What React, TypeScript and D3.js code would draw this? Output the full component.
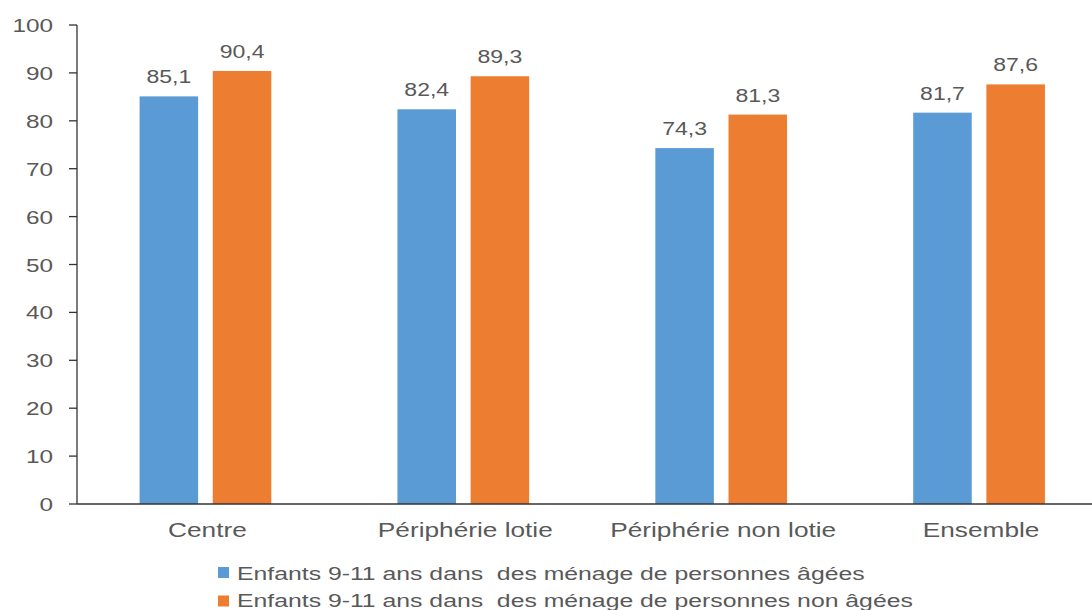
import React from "react";
import * as d3 from "d3";

const categories = ["Centre", "Périphérie lotie", "Périphérie non lotie", "Ensemble"];
const seriesNames = [
  "Enfants 9-11 ans dans  des ménage de personnes âgées",
  "Enfants 9-11 ans dans  des ménage de personnes non âgées",
];
const agees = [85.1, 82.4, 74.3, 81.7];
const nonAgees = [90.4, 89.3, 81.3, 87.6];
const yTicks = [0, 10, 20, 30, 40, 50, 60, 70, 80, 90, 100];
const colors = ["#5B9BD5", "#ED7D31"];

const W = 1092;
const H = 610;
const TEXT = "#595959";
const FONT = "'Liberation Sans', Arial, sans-serif";
const SX = 1.28;

export default function App() {
  const y = d3.scaleLinear().domain([0, 100]).range([504, 25]);
  const x0 = d3.scaleBand<string>().domain(categories).range([76.5, 1108]).paddingInner(0).paddingOuter(0);
  const x1 = d3
    .scaleBand<string>()
    .domain(["0", "1"])
    .range([0, x0.bandwidth()])
    .paddingInner(0.2)
    .paddingOuter(0.862);
  const values = [agees, nonAgees];
  const fmt = (v: number) => v.toFixed(1).replace(".", ",");

  return (
    <svg
      width={W}
      height={H}
      style={{ position: "absolute", left: 0, top: 0, background: "#fff" }}
      fontFamily={FONT}
    >
      <rect x={0} y={0} width={W} height={H} fill="#fff" />
      {/* bars */}
      {categories.map((c, ci) =>
        values.map((vals, si) => {
          const bx = (x0(c) as number) + (x1(String(si)) as number);
          const bw = x1.bandwidth();
          const v = vals[ci];
          return (
            <g key={c + si}>
              <rect x={bx} y={y(v)} width={bw} height={y(0) - y(v)} fill={colors[si]} />
              <text
                transform={`translate(${bx + bw / 2},${y(v) - 13}) scale(${SX},1)`}
                textAnchor="middle"
                fontSize={18}
                fill={TEXT}
              >
                {fmt(v)}
              </text>
            </g>
          );
        })
      )}
      {/* y axis */}
      <line x1={77} x2={77} y1={y(100)} y2={y(0)} stroke="#333" strokeWidth={1.3} />
      {yTicks.map((t) => (
        <g key={t}>
          <line x1={69} x2={77} y1={y(t)} y2={y(t)} stroke="#333" strokeWidth={1.3} />
          <text
            transform={`translate(53,${y(t) + 7}) scale(${SX},1)`}
            textAnchor="end"
            fontSize={19}
            fill={TEXT}
          >
            {t}
          </text>
        </g>
      ))}
      {/* x axis */}
      <line x1={77} x2={W} y1={y(0)} y2={y(0)} stroke="#333" strokeWidth={1.5} />
      {categories.map((c) => (
        <text
          key={c}
          transform={`translate(${(x0(c) as number) + x0.bandwidth() / 2 + 2},537) scale(${SX},1)`}
          textAnchor="middle"
          fontSize={20.5}
          fill={TEXT}
        >
          {c}
        </text>
      ))}
      {/* legend */}
      {seriesNames.map((s, i) => (
        <g key={s}>
          <rect x={218} y={567 + i * 28.5} width={11} height={11} fill={colors[i]} />
          <text
            transform={`translate(237,${580 + i * 26.5}) scale(1.34,1)`}
            fontSize={18.5}
            fill={TEXT}
            style={{ whiteSpace: "pre" }}
            xmlSpace="preserve"
          >
            {s}
          </text>
        </g>
      ))}
    </svg>
  );
}
